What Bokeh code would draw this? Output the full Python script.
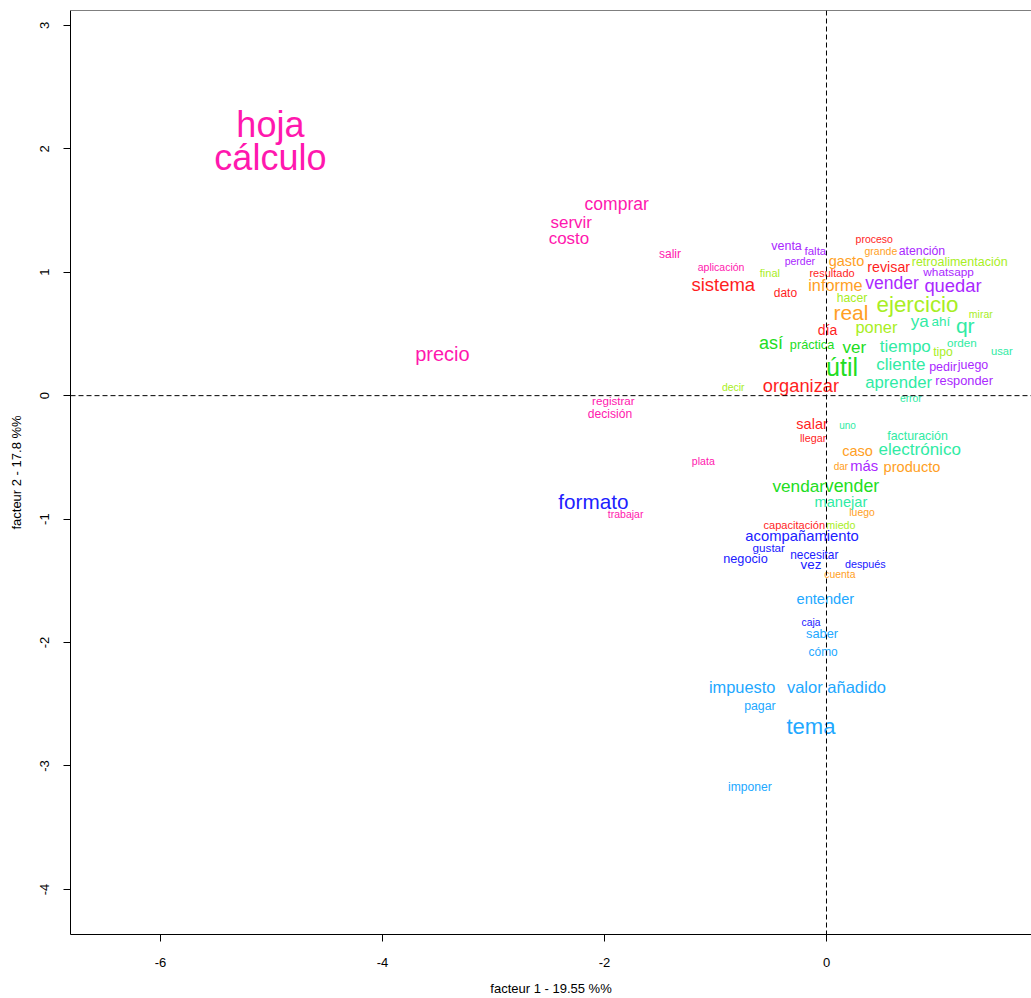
from bokeh.plotting import figure
from bokeh.models import ColumnDataSource, Span, FixedTicker, Range1d
from bokeh.core.properties import value
from bokeh.embed import file_html
from bokeh.resources import INLINE

# ---- data: words, factor coordinates, relative size (cex), class ----
words = [
    "hoja\ncálculo", "precio", "comprar", "servir", "costo", "salir", "aplicación",
    "venta", "falta", "perder", "final", "sistema", "dato",
    "proceso", "grande", "atención", "gasto", "revisar", "retroalimentación",
    "resultado", "whatsapp", "informe", "vender", "quedar", "hacer", "ejercicio",
    "real", "mirar", "ya", "ahí", "qr", "poner", "día", "así", "práctica", "ver",
    "tiempo", "orden", "tipo", "usar", "útil", "cliente", "pedir", "juego",
    "decir", "organizar", "aprender", "responder", "error",
    "registrar", "decisión", "salar", "uno", "llegar", "facturación", "caso",
    "electrónico", "plata", "dar", "más", "producto", "vendar", "vender",
    "formato", "manejar", "trabajar", "luego", "capacitación", "miedo",
    "acompañamiento", "gustar", "negocio", "necesitar", "vez", "después", "cuenta",
    "entender", "caja", "saber", "cómo", "impuesto", "valor añadido", "pagar",
    "tema", "imponer",
]
fx = [
    -5.01, -3.46, -1.89, -2.30, -2.32, -1.41, -0.95,
    -0.36, -0.10, -0.24, -0.51, -0.93, -0.37,
    0.43, 0.49, 0.86, 0.18, 0.56, 1.20,
    0.05, 1.10, 0.08, 0.59, 1.14, 0.23, 0.82,
    0.22, 1.39, 0.84, 1.03, 1.25, 0.45, 0.01, -0.50, -0.13, 0.25,
    0.71, 1.22, 1.05, 1.58, 0.14, 0.67, 1.05, 1.32,
    -0.84, -0.23, 0.65, 1.24, 0.76,
    -1.92, -1.95, -0.13, 0.19, -0.12, 0.82, 0.28,
    0.84, -1.11, 0.13, 0.34, 0.77, -0.25, 0.23,
    -2.10, 0.13, -1.81, 0.32, -0.29, 0.13,
    -0.22, -0.52, -0.73, -0.11, -0.14, 0.35, 0.12,
    -0.01, -0.14, -0.04, -0.03, -0.76, 0.09, -0.60,
    -0.14, -0.69,
]
fy = [
    2.06, 0.34, 1.55, 1.40, 1.27, 1.15, 1.04,
    1.21, 1.17, 1.09, 0.99, 0.90, 0.83,
    1.27, 1.17, 1.17, 1.09, 1.04, 1.08,
    0.99, 1.00, 0.90, 0.91, 0.89, 0.79, 0.74,
    0.67, 0.66, 0.60, 0.60, 0.57, 0.56, 0.53, 0.43, 0.41, 0.39,
    0.40, 0.43, 0.35, 0.36, 0.23, 0.25, 0.23, 0.25,
    0.07, 0.08, 0.11, 0.12, -0.02,
    -0.04, -0.15, -0.23, -0.24, -0.34, -0.33, -0.45,
    -0.44, -0.53, -0.57, -0.57, -0.58, -0.73, -0.73,
    -0.86, -0.86, -0.96, -0.95, -1.05, -1.05,
    -1.14, -1.23, -1.32, -1.29, -1.37, -1.36, -1.45,
    -1.65, -1.84, -1.93, -2.08, -2.36, -2.36, -2.51,
    -2.68, -3.17,
]
cex = [
    3.6, 2.0, 1.75, 1.7, 1.7, 1.2, 1.05,
    1.25, 1.15, 1.05, 1.1, 1.85, 1.2,
    1.05, 1.05, 1.23, 1.45, 1.43, 1.25,
    1.1, 1.18, 1.63, 1.75, 1.84, 1.22, 2.23,
    2.1, 1.05, 1.7, 1.35, 2.1, 1.64, 1.4, 1.8, 1.27, 1.7,
    1.7, 1.17, 1.22, 1.12, 2.5, 1.7, 1.25, 1.24,
    1.04, 1.83, 1.67, 1.28, 1.04,
    1.16, 1.21, 1.45, 1.0, 1.08, 1.24, 1.46,
    1.7, 1.06, 1.0, 1.48, 1.46, 1.72, 1.78,
    2.07, 1.46, 1.05, 1.04, 1.11, 1.07,
    1.48, 1.17, 1.27, 1.19, 1.34, 1.08, 1.04,
    1.46, 1.03, 1.28, 1.19, 1.64, 1.65, 1.23,
    2.2, 1.21,
]
cls = [
    10, 10, 10, 10, 10, 10, 10,
    9, 9, 9, 3, 1, 1,
    1, 2, 9, 2, 1, 3,
    1, 9, 2, 9, 9, 3, 3,
    2, 3, 5, 5, 5, 3, 1, 4, 4, 4,
    5, 5, 3, 5, 4, 5, 9, 9,
    3, 1, 5, 9, 5,
    10, 10, 1, 5, 1, 5, 2,
    5, 10, 2, 9, 2, 4, 4,
    8, 5, 10, 2, 1, 3,
    8, 8, 8, 8, 8, 8, 2,
    6, 8, 6, 6, 6, 6, 6,
    6, 6,
]
class_colors = {
    1: "#FF1E1E", 2: "#FFA024", 3: "#A8EE24", 4: "#22DD22", 5: "#30EBA4",
    6: "#22A8FF", 8: "#2020FF", 9: "#AA28FF", 10: "#FF18AE",
}
x_ticks = [-6, -4, -2, 0]
x_tick_labels = ["-6", "-4", "-2", "0"]
y_ticks = [-4, -3, -2, -1, 0, 1, 2, 3]
y_tick_labels = ["-4", "-3", "-2", "-1", "0", "1", "2", "3"]
x_title = "facteur 1 - 19.55 %%"
y_title = "facteur 2 - 17.8 %%"
x_lim = (-6.811, 1.847)
y_lim = (-4.365, 3.12)

FONT = "Liberation Sans"

src = ColumnDataSource(dict(
    x=fx, y=fy, word=words,
    color=[class_colors[c] for c in cls],
    size=["%.1fpx" % (c * 10) for c in cex],
))

p = figure(width=1031, height=998,
           x_range=Range1d(*x_lim), y_range=Range1d(*y_lim),
           output_backend="svg", toolbar_location=None,
           min_border_left=70, min_border_top=10, min_border_right=0,
           min_border_bottom=64)
p.grid.visible = False
p.outline_line_color = None
p.background_fill_color = "white"
p.border_fill_color = "white"

for ax, ticks, labels, title in ((p.xaxis[0], x_ticks, x_tick_labels, x_title),
                                  (p.yaxis[0], y_ticks, y_tick_labels, y_title)):
    ax.ticker = FixedTicker(ticks=ticks)
    ax.major_label_overrides = {t: l for t, l in zip(ticks, labels)}
    ax.minor_tick_line_color = None
    ax.major_tick_in = 0
    ax.major_tick_out = 7
    ax.major_tick_line_color = "black"
    ax.axis_line_color = "black"
    ax.major_label_text_font = FONT
    ax.major_label_text_font_size = "13px"
    ax.major_label_text_color = "black"
    ax.axis_label = title
    ax.axis_label_text_font = FONT
    ax.axis_label_text_font_size = "13px"
    ax.axis_label_text_font_style = "normal"
    ax.axis_label_text_color = "black"

p.xaxis.major_label_standoff = 16
p.xaxis.axis_label_standoff = 11
p.yaxis.major_label_orientation = "vertical"
p.yaxis.major_label_standoff = 14
p.yaxis.axis_label_standoff = 14

p.text(x="x", y="y", text="word", text_color="color", text_font_size="size",
       text_align="center", text_baseline="middle", text_line_height=0.8,
       text_font=value(FONT), source=src)

p.add_layout(Span(location=0, dimension="height", line_color="black",
                  line_dash="5 3", line_width=1))
p.add_layout(Span(location=0, dimension="width", line_color="black",
                  line_dash="5 3", line_width=1))
# top border of the box (the right side runs past the window)
p.add_layout(Span(location=y_lim[1], dimension="width", line_color="black",
                  line_width=1))

open("out.html", "w").write(file_html(p, INLINE))
